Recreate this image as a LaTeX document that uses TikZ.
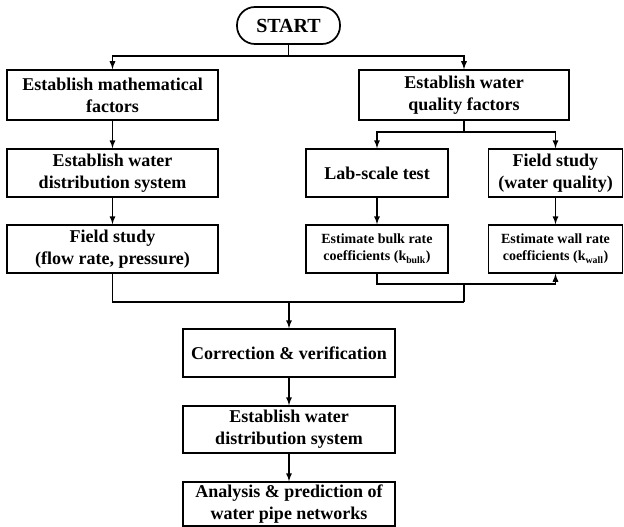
\documentclass[tikz,border=0pt]{standalone}
\usepackage{fontspec}
\setmainfont{Liberation Serif}
\usepackage{tikz}
\usetikzlibrary{arrows}
\tikzset{procbox/.style={draw, rectangle, align=center, inner sep=0pt, font=\bfseries\fontsize{18}{22}\selectfont}}
\tikzset{ratebox/.style={procbox, font=\bfseries\fontsize{14}{17}\selectfont}}
\tikzset{startbox/.style={draw, rectangle, rounded corners=18pt, minimum width=103pt, minimum height=37pt, font=\bfseries\fontsize{20}{24}\selectfont}}
\newcommand{\procnode}[4]{node[procbox, minimum width=#1, minimum height=#2](#3) {#4}}
\newcommand{\ratenode}[4]{node[ratebox, minimum width=#1, minimum height=#2](#3) {#4}}

\begin{document}
\begin{tikzpicture}[x=1pt, y=-1pt, line width=1.7pt]
\useasboundingbox (0,0) rectangle (624,527);
\draw (288.5,25.5) node[startbox](start) {START} ;
\draw (112.5,95) \procnode{211pt}{50pt}{math}{Establish mathematical\\factors} ;
\draw (464,95) \procnode{210pt}{50pt}{wqf}{Establish water\\quality factors} ;
  \draw (112.5,173) \procnode{211pt}{48pt}{dist}{Establish water\\distribution system} ;
  \draw (377,173) \procnode{142pt}{48pt}{lab}{Lab-scale test} ;
  \draw (555.5,173) \procnode{134pt}{48pt}{fwq}{Field study\\(water quality)} ;
\draw (112.5,249) \procnode{211pt}{48pt}{flow}{Field study\\(flow rate, pressure)} ;
\draw (377,249) \ratenode{142pt}{48pt}{bulk}{Estimate bulk rate\\coefficients (k\textsubscript{bulk})} ;
\draw (555.5,249) \ratenode{134pt}{48pt}{wall}{Estimate wall rate\\coefficients (k\textsubscript{wall})} ;
  \draw (289,353) \procnode{212pt}{48pt}{corr}{Correction \& verification} ;
  \draw (289,429.5) \procnode{212pt}{47pt}{dist2}{Establish water\\distribution system} ;
  \draw (289,504) \procnode{212pt}{44pt}{anal}{Analysis \& prediction of\\water pipe networks} ;
\coordinate (j1) at (288.5,56) ;
\coordinate (j2) at (464,132) ;
\coordinate (j3) at (464,284) ;
\coordinate (j4) at (464,302) ;
\coordinate (j5) at (289,302) ;
\draw (start) -- (j1) ;
\draw[-latex] (j1) -| (math) ;
\draw[-latex] (j1) -| (wqf) ;
\draw[-latex] (math) -- (dist) ;
\draw[-latex] (dist) -- (flow) ;
\draw (wqf) -- (j2) ;
\draw[-latex] (j2) -| (lab) ;
\draw[-latex] (j2) -| (fwq) ;
\draw[-latex] (lab) -- (bulk) ;
\draw[-latex] (fwq) -- (wall) ;
\draw[-latex] (bulk) |- (j3) -| (wall) ;
\draw (j3) -- (j4) ;
\draw (flow) |- (j4) ;
\draw[-latex] (j5) -- (corr) ;
\draw[-latex] (corr) -- (dist2) ;
\draw[-latex] (dist2) -- (anal) ;
\end{tikzpicture}
\end{document}
